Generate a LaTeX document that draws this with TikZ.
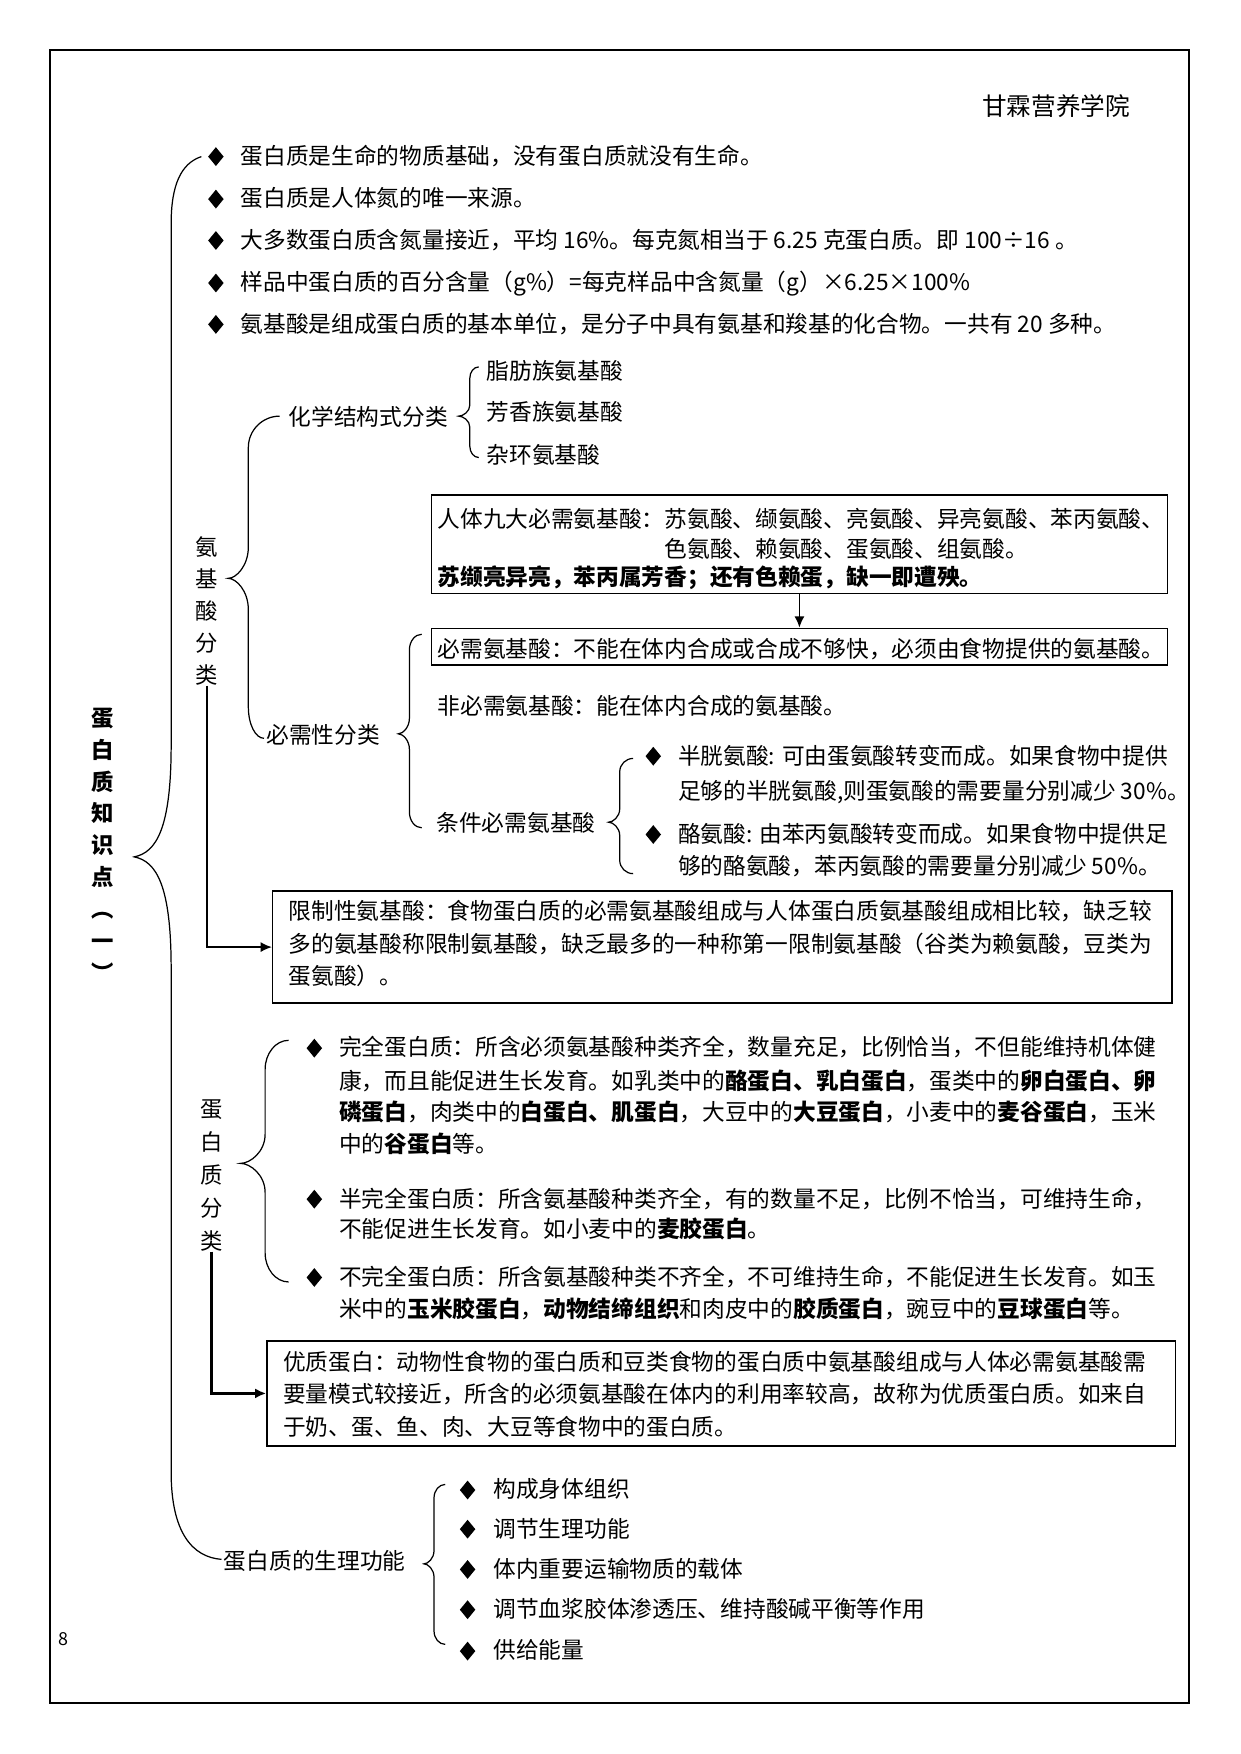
\documentclass[tikz,border=0pt]{standalone}
\usepackage{fontspec}
\setmainfont{Noto Sans CJK SC}
\usetikzlibrary{arrows.meta,shapes.geometric}
% #1 topx #2 topy #3 spinex #4 tipx #5 tipy #6 botx #7 boty #8 radius
\newcommand\curlyb[8]{%
  \draw[brc] (#1,#2) .. controls ({#3+0.45*(#1-#3)},#2) and (#3,{#2+0.45*#8}) .. (#3,{#2+#8})
    -- (#3,{#5-#8}) .. controls (#3,{#5-0.4*#8}) and ({#4+0.4*(#3-#4)},#5) .. (#4,#5)
    .. controls ({#4+0.4*(#3-#4)},#5) and (#3,{#5+0.4*#8}) .. (#3,{#5+#8})
    -- (#3,{#7-#8}) .. controls (#3,{#7-0.45*#8}) and ({#3+0.45*(#6-#3)},#7) .. (#6,#7);}
\begin{document}
\begin{tikzpicture}[x=1pt,y=-1pt,
  tx/.style={anchor=base west,inner sep=0pt,font=\fontsize{20.3}{24}\selectfont},
  dia/.style={diamond,fill=black,inner sep=0pt,minimum width=14,minimum height=17},
  boxn/.style={draw,line width=1.3pt,inner sep=0pt,anchor=north west},
  brc/.style={line width=1.1pt},
  arr/.style={line width=1.3pt,-{Latex[length=10pt,width=9pt]}},
  vlab/.style={align=center,inner sep=0pt,font=\fontsize{20}{28.7}\selectfont}
]
\useasboundingbox (0,0) rectangle (1109,1568);
\draw[line width=1.8pt] (45,45) rectangle (1063,1522);

\node[tx,font=\fontsize{22}{26}\selectfont] (hdr) at (878,103) {甘霖营养学院};
\node[tx,font=\fontsize{16}{18}\selectfont] (pg) at (52,1471) {8};

% main label and brace
\node[vlab,font=\bfseries\fontsize{20}{28.5}\selectfont] (mainlab) at (92,755) {蛋\\白\\质\\知\\识\\点\\︵\\一\\︶};
\draw[brc] (180,140) .. controls (162,146) and (153,165) .. (153,200) -- (153,666)
  .. controls (153,740) and (140,762) .. (120,766)
  .. controls (140,770) and (153,792) .. (153,866) -- (153,1316)
  .. controls (153,1370) and (172,1392) .. (198,1394);

% section 1
\node[dia] (s1d1) at (193,140) {}; \node[tx] (s1t1) at (215,147) {蛋白质是生命的物质基础，没有蛋白质就没有生命。};
\node[dia] (s1d2) at (193,178) {}; \node[tx] (s1t2) at (215,185) {蛋白质是人体氮的唯一来源。};
\node[dia] (s1d3) at (193,215) {}; \node[tx] (s1t3) at (215,222) {大多数蛋白质含氮量接近，平均 16\%。每克氮相当于 6.25 克蛋白质。即 100÷16 。};
\node[dia] (s1d4) at (193,253) {}; \node[tx] (s1t4) at (215,260) {样品中蛋白质的百分含量（g\%）=每克样品中含氮量（g）×6.25×100\%};
\node[dia] (s1d5) at (193,290) {}; \node[tx] (s1t5) at (215,297) {氨基酸是组成蛋白质的基本单位，是分子中具有氨基和羧基的化合物。一共有 20 多种。};

% section 2: amino acid classification
\node[vlab] (lab1) at (185,546) {氨\\基\\酸\\分\\类};
\curlyb{250}{372}{222}{204}{517}{236}{660}{28}
\node[tx] (chem) at (258,380) {化学结构式分类};
\curlyb{428}{328}{420}{410}{372}{428}{409}{10}
\node[tx] (c1) at (435,339) {脂肪族氨基酸};
\node[tx] (c2) at (435,376) {芳香族氨基酸};
\node[tx] (c3) at (435,414) {杂环氨基酸};

\node[boxn,minimum width=658,minimum height=88] (box1) at (385,442) {};
\node[tx] (b1l1) at (391,472) {人体九大必需氨基酸：苏氨酸、缬氨酸、亮氨酸、异亮氨酸、苯丙氨酸、};
\node[tx] (b1l2) at (594,498.5) {色氨酸、赖氨酸、蛋氨酸、组氨酸。};
\node[tx,font=\bfseries\fontsize{20.3}{24}\selectfont] (b1l3) at (391,523) {苏缬亮异亮，苯丙属芳香；还有色赖蛋，缺一即遭殃。};
\node[boxn,minimum width=658,minimum height=33] (box2) at (385,561) {};
\node[tx] (b2l1) at (391,588) {必需氨基酸：不能在体内合成或合成不够快，必须由食物提供的氨基酸。};
\draw[arr] (box1.south) -- (box2.north);

\node[tx] (nonessential) at (391,639) {非必需氨基酸：能在体内合成的氨基酸。};
\node[tx] (ess) at (238,665) {必需性分类};
\curlyb{377}{567}{366}{356}{656}{377}{740}{14}
\node[tx] (cond) at (390,743) {条件必需氨基酸};
\curlyb{566}{678}{554}{544}{735}{566}{781}{12}
\node[dia] (cd1) at (584,676) {}; \node[tx] (cd1a) at (606,683) {半胱氨酸: 可由蛋氨酸转变而成。如果食物中提供};
\node[tx] (cd1b) at (606,715) {足够的半胱氨酸,则蛋氨酸的需要量分别减少 30\%。};
\node[dia] (cd2) at (584,746) {}; \node[tx] (cd2a) at (606,753) {酪氨酸: 由苯丙氨酸转变而成。如果食物中提供足};
\node[tx] (cd2b) at (606,782) {够的酪氨酸，苯丙氨酸的需要量分别减少 50\%。};

\node[boxn,minimum width=804,minimum height=100] (box3) at (243,796) {};
\node[tx] (b3l1) at (258,822) {限制性氨基酸：食物蛋白质的必需氨基酸组成与人体蛋白质氨基酸组成相比较，缺乏较};
\node[tx] (b3l2) at (258,851.5) {多的氨基酸称限制氨基酸，缺乏最多的一种称第一限制氨基酸（谷类为赖氨酸，豆类为};
\node[tx] (b3l3) at (258,880) {蛋氨酸）。};
\draw[arr] (lab1.south) |- (box3.west);

% section 3: protein classification
\node[vlab,font=\fontsize{20}{29.5}\selectfont] (lab2) at (189,1051) {蛋\\白\\质\\分\\类};
\curlyb{258}{930}{237}{215}{1040}{258}{1146}{26}
\node[dia] (p1) at (281,937) {};
\node[tx] (p1a) at (303,944) {完全蛋白质：所含必须氨基酸种类齐全，数量充足，比例恰当，不但能维持机体健};
\node[tx] (p1b) at (303,974) {康，而且能促进生长发育。如乳类中的\textbf{酪蛋白、乳白蛋白}，蛋类中的\textbf{卵白蛋白、卵}};
\node[tx] (p1c) at (303,1002) {\textbf{磷蛋白}，肉类中的\textbf{白蛋白、肌蛋白}，大豆中的\textbf{大豆蛋白}，小麦中的\textbf{麦谷蛋白}，玉米};
\node[tx] (p1d) at (303,1030) {中的\textbf{谷蛋白}等。};
\node[dia] (p2) at (281,1072) {};
\node[tx] (p2a) at (303,1079) {半完全蛋白质：所含氨基酸种类齐全，有的数量不足，比例不恰当，可维持生命，};
\node[tx] (p2b) at (303,1106) {不能促进生长发育。如小麦中的\textbf{麦胶蛋白}。};
\node[dia] (p3) at (281,1142) {};
\node[tx] (p3a) at (303,1149) {不完全蛋白质：所含氨基酸种类不齐全，不可维持生命，不能促进生长发育。如玉};
\node[tx] (p3b) at (303,1178) {米中的\textbf{玉米胶蛋白}，\textbf{动物结缔组织}和肉皮中的\textbf{胶质蛋白}，豌豆中的\textbf{豆球蛋白}等。};

\node[boxn,minimum width=812,minimum height=94] (box4) at (238,1198) {};
\node[tx] (b4l1) at (253,1225) {优质蛋白：动物性食物的蛋白质和豆类食物的蛋白质中氨基酸组成与人体必需氨基酸需};
\node[tx] (b4l2) at (253,1254) {要量模式较接近，所含的必须氨基酸在体内的利用率较高，故称为优质蛋白质。如来自};
\node[tx] (b4l3) at (253,1283) {于奶、蛋、鱼、肉、大豆等食物中的蛋白质。};
\draw[arr,line width=2.4pt] (lab2.south) |- (box4.west);

% section 4: functions
\node[tx] (func) at (200,1403) {蛋白质的生理功能};
\curlyb{398}{1327}{388}{379}{1398}{398}{1470}{12}
\node[dia] (f1) at (418,1332) {}; \node[tx] (f1t) at (441,1339) {构成身体组织};
\node[dia] (f2) at (418,1367) {}; \node[tx] (f2t) at (441,1374) {调节生理功能};
\node[dia] (f3) at (418,1403) {}; \node[tx] (f3t) at (441,1410) {体内重要运输物质的载体};
\node[dia] (f4) at (418,1439) {}; \node[tx] (f4t) at (441,1446) {调节血浆胶体渗透压、维持酸碱平衡等作用};
\node[dia] (f5) at (418,1476) {}; \node[tx] (f5t) at (441,1483) {供给能量};
\end{tikzpicture}
\end{document}
